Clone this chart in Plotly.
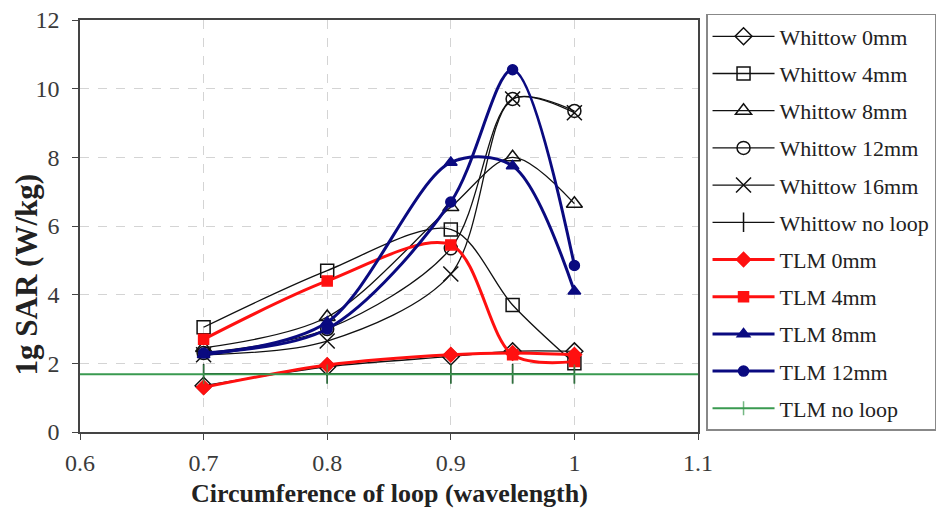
import plotly.graph_objects as go

x = [0.7, 0.8, 0.9, 0.95, 1.0]
x_noloop = [0.6, 0.7, 0.8, 0.9, 0.95, 1.0, 1.1]

whittow_0 = [1.35, 1.9, 2.2, 2.35, 2.35]
whittow_4 = [3.05, 4.7, 5.9, 3.7, 2.0]
whittow_8 = [2.45, 3.35, 6.55, 8.0, 6.65]
whittow_12 = [2.3, 3.0, 5.35, 9.7, 9.35]
whittow_16 = [2.25, 2.65, 4.6, 9.7, 9.3]
whittow_noloop = [1.7, 1.7, 1.7, 1.7, 1.7]
tlm_0 = [1.3, 1.95, 2.25, 2.3, 2.25]
tlm_4 = [2.7, 4.4, 5.45, 2.25, 2.05]
tlm_8 = [2.25, 3.2, 7.85, 7.75, 4.1]
tlm_12 = [2.3, 3.0, 6.7, 10.55, 4.85]
tlm_noloop = [1.68, 1.68, 1.68, 1.68, 1.68, 1.68, 1.68]

x_ticks = [0.6, 0.7, 0.8, 0.9, 1.0, 1.1]
x_tick_labels = ["0.6", "0.7", "0.8", "0.9", "1", "1.1"]
y_ticks = [0, 2, 4, 6, 8, 10, 12]

BLACK = "#111111"
RED = "#ff1010"
BLUE = "#0a0a80"
GREEN = "#3a9a50"
FONT = "Liberation Serif"

fig = go.Figure()

def add(name, xs, ys, color, width, symbol, size, mline=1.5, msizes=None):
    fig.add_trace(go.Scatter(
        x=xs, y=ys, name=name, mode="lines+markers",
        line=dict(color=color, width=width, shape="spline", smoothing=0.9),
        marker=dict(symbol=symbol, size=msizes if msizes is not None else size,
                    color=color, line=dict(color=color, width=mline)),
        legendgroup=name,
    ))

add("Whittow 0mm", x, whittow_0, BLACK, 1.3, "diamond-open", 13)
add("Whittow 4mm", x, whittow_4, BLACK, 1.3, "square-open", 13)
add("Whittow 8mm", x, whittow_8, BLACK, 1.3, "triangle-up-open", 14)
add("Whittow 12mm", x, whittow_12, BLACK, 1.3, "circle-open", 13)
add("Whittow 16mm", x, whittow_16, BLACK, 1.3, "x-thin-open", 15)
add("Whittow no loop", x, whittow_noloop, BLACK, 1.3, "line-ns-open", 14)
add("TLM 0mm", x, tlm_0, RED, 3, "diamond", 11)
add("TLM 4mm", x, tlm_4, RED, 3, "square", 10)
add("TLM 8mm", x, tlm_8, BLUE, 3, "triangle-up", 11)
add("TLM 12mm", x, tlm_12, BLUE, 3, "circle", 10)
add("TLM no loop", x_noloop, tlm_noloop, GREEN, 2, "line-ns-open", 14,
    msizes=[0, 14, 14, 14, 14, 14, 0])

fig.update_layout(
    width=949, height=512,
    margin=dict(l=80, r=251, t=20, b=80, autoexpand=False),
    paper_bgcolor="white", plot_bgcolor="white",
    font=dict(family=FONT, size=24, color="#3a3a3a"),
    showlegend=True,
    legend=dict(
        x=1.013, y=1.0146, xanchor="left", yanchor="top",
        bordercolor="#888888", borderwidth=1.5, bgcolor="white",
        font=dict(family=FONT, size=22, color="#222222"),
        tracegroupgap=5.6, itemwidth=62, maxheight=500,
    ),
    xaxis=dict(
        range=[0.6, 1.1], tickvals=x_ticks, ticktext=x_tick_labels,
        showgrid=True, gridcolor="#d4d4d4", griddash="dash", gridwidth=1,
        showline=True, linecolor="#444444", linewidth=1.5, mirror=True,
        ticks="outside", ticklen=6, tickcolor="#444444", ticklabelstandoff=2,
        zeroline=False,
    ),
    yaxis=dict(
        range=[0, 12], tickvals=y_ticks,
        showgrid=True, gridcolor="#d4d4d4", griddash="dash", gridwidth=1,
        showline=True, linecolor="#444444", linewidth=1.5, mirror=True,
        ticks="outside", ticklen=6, tickcolor="#444444", ticklabelstandoff=8,
        zeroline=False,
    ),
    annotations=[
        dict(text="<b>Circumference of loop (wavelength)</b>", xref="paper", yref="paper",
             x=0.5016, y=-0.15, xanchor="center", yanchor="middle", showarrow=False,
             font=dict(family=FONT, size=26, color="#222222")),
        dict(text="<b>1g SAR (W/kg)</b>", xref="paper", yref="paper",
             x=-0.087, y=0.383, xanchor="center", yanchor="middle", showarrow=False,
             textangle=-90, font=dict(family=FONT, size=31, color="#222222")),
    ],
)

fig.write_html("out.html")
